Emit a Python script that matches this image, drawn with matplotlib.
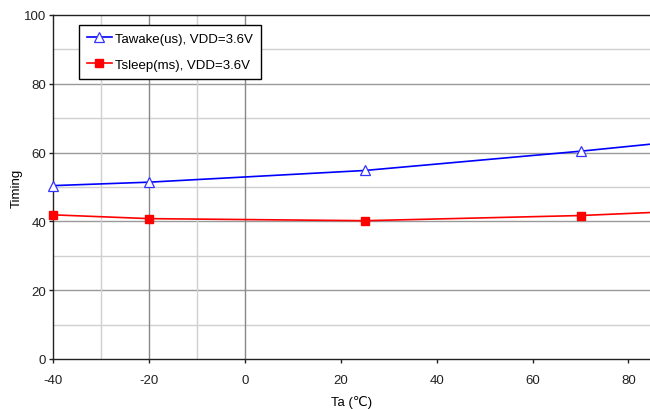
import matplotlib
matplotlib.use('Agg')
import matplotlib.pyplot as plt

plt.rcParams['font.family'] = ['Liberation Sans', 'DejaVu Sans']
plt.rcParams['axes.unicode_minus'] = False

# data
temps = [-40, -20, 25, 70, 85]
t_awake = [50.4, 51.4, 54.8, 60.4, 62.5]
t_sleep = [41.9, 40.8, 40.2, 41.7, 42.6]

x_major_grid = [-20, 0]
x_minor_grid = [-30, -10]
y_ticks = [0, 20, 40, 60, 80, 100]
x_ticks = [-40, -20, 0, 20, 40, 60, 80]

fig = plt.figure(figsize=(6.5, 4.1), dpi=100)
ax = fig.add_axes([0.082, 0.122, 0.918, 0.839])

# grid
for y in range(10, 100, 20):
    ax.axhline(y, color='#d0d0d0', lw=1.0, zorder=0)
for y in y_ticks[1:-1]:
    ax.axhline(y, color='#999999', lw=1.0, zorder=0)
for x in x_minor_grid:
    ax.axvline(x, color='#d0d0d0', lw=1.0, zorder=0)
for x in x_major_grid:
    ax.axvline(x, color='#888888', lw=1.0, zorder=0)

# last point sits past the right edge, no marker shown there
ax.plot(temps, t_awake, color='#0000ff', lw=1.2, marker='^', markersize=7,
        markerfacecolor='white', markeredgecolor='#3333ff', markeredgewidth=0.9,
        markevery=[0, 1, 2, 3], clip_on=False,
        label='Tawake(us), VDD=3.6V', zorder=3)
ax.plot(temps, t_sleep, color='#ff0000', lw=1.2, marker='s', markersize=6,
        markerfacecolor='#ff0000', markeredgecolor='#ff0000',
        markevery=[0, 1, 2, 3], clip_on=False,
        label='Tsleep(ms), VDD=3.6V', zorder=3)

ax.set_xlim(-40, 84.5)
ax.set_ylim(0, 100)
ax.set_xticks(x_ticks)
ax.set_yticks(y_ticks)
ax.tick_params(labelsize=9.5, length=3, width=1, colors='#222222', direction='out')
ax.tick_params(axis='x', pad=8)
ax.tick_params(axis='y', pad=2)

ax.spines['right'].set_visible(False)
for s in ['left', 'bottom', 'top']:
    ax.spines[s].set_color('#222222')
    ax.spines[s].set_linewidth(1.0)

ax.set_xlabel('Ta (℃)', fontsize=9.5, labelpad=6)
ax.set_ylabel('Timing', fontsize=9.5, labelpad=1)

leg = ax.legend(loc='upper left', bbox_to_anchor=(0.043, 0.972), fontsize=9.5,
                fancybox=False, framealpha=1, edgecolor='black',
                handlelength=1.9, handletextpad=0.25, labelspacing=1.05,
                borderpad=0.6, borderaxespad=0)
leg.get_frame().set_linewidth(1.0)

fig.savefig('out.png', dpi=100)
